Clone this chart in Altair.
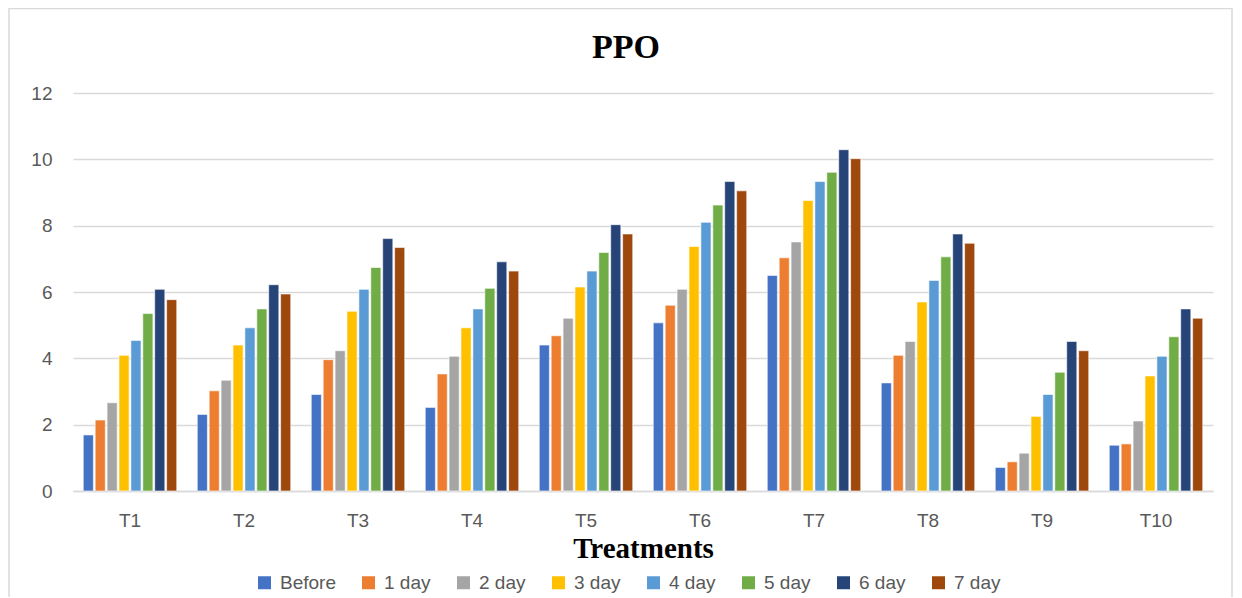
import altair as alt
import pandas as pd

treatments = ["T1", "T2", "T3", "T4", "T5", "T6", "T7", "T8", "T9", "T10"]
series = ["Before", "1 day", "2 day", "3 day", "4 day", "5 day", "6 day", "7 day"]
colors = ["#4472C4", "#ED7D31", "#A5A5A5", "#FFC000", "#5B9BD5", "#70AD47", "#264478", "#9E480E"]

before = [1.69, 2.31, 2.91, 2.52, 4.40, 5.07, 6.50, 3.26, 0.71, 1.38]
day1 = [2.14, 3.02, 3.96, 3.53, 4.68, 5.60, 7.03, 4.09, 0.88, 1.42]
day2 = [2.66, 3.34, 4.23, 4.06, 5.21, 6.08, 7.51, 4.51, 1.14, 2.11]
day3 = [4.09, 4.40, 5.42, 4.92, 6.15, 7.37, 8.76, 5.70, 2.25, 3.47]
day4 = [4.54, 4.92, 6.08, 5.49, 6.63, 8.10, 9.33, 6.35, 2.91, 4.06]
day5 = [5.35, 5.49, 6.74, 6.11, 7.19, 8.62, 9.61, 7.06, 3.58, 4.65]
day6 = [6.08, 6.22, 7.61, 6.91, 8.03, 9.33, 10.29, 7.75, 4.51, 5.49]
day7 = [5.77, 5.94, 7.34, 6.63, 7.75, 9.05, 10.02, 7.47, 4.23, 5.21]

all_vals = [before, day1, day2, day3, day4, day5, day6, day7]
rows = []
for s, vals in zip(series, all_vals):
    for t, v in zip(treatments, vals):
        rows.append({"Treatment": t, "Series": s, "Value": v})
df = pd.DataFrame(rows)

bars = alt.Chart(df).mark_bar(stroke="white", strokeWidth=0.6).encode(
    x=alt.X("Treatment:N", sort=treatments,
            scale=alt.Scale(paddingInner=0.18, paddingOuter=0.09),
            axis=alt.Axis(title="Treatments", labelAngle=0, labelFontSize=19,
                          labelColor="#595959", labelFont="Liberation Sans",
                          labelPadding=20, ticks=False, domainColor="#d9d9d9",
                          domainWidth=1.5, titleFont="Liberation Serif",
                          titleFontSize=29, titleFontWeight="bold",
                          titleColor="black", titlePadding=4)),
    xOffset=alt.XOffset("Series:N", sort=series,
                        scale=alt.Scale(paddingInner=0.15)),
    y=alt.Y("Value:Q", scale=alt.Scale(domain=[0, 12]),
            axis=alt.Axis(title=None, values=[0, 2, 4, 6, 8, 10, 12],
                          domain=False, ticks=False, gridColor="#d9d9d9",
                          gridWidth=1.5, labelFontSize=19, labelColor="#595959",
                          labelFont="Liberation Sans", labelPadding=21)),
    color=alt.Color("Series:N", sort=series,
                    scale=alt.Scale(domain=series, range=colors),
                    legend=alt.Legend(title=None, orient="none", legendX=182,
                                      legendY=480, direction="horizontal",
                                      columns=8, symbolType="square",
                                      symbolSize=169, symbolStrokeWidth=0,
                                      labelFontSize=19, labelColor="#595959",
                                      labelFont="Liberation Sans",
                                      columnPadding=23, labelOffset=6)),
)

border = alt.Chart(pd.DataFrame({"a": [0]})).mark_rect(
    fillOpacity=0, stroke="#d9d9d9", strokeWidth=1.5
).encode(x=alt.value(-64), x2=alt.value(1159), y=alt.value(-84.5), y2=alt.value(520))

chart = alt.layer(bars, border).properties(
    width=1140, height=398,
    title=alt.TitleParams(text="PPO", font="Liberation Serif", fontSize=34,
                          fontWeight="bold", color="black", anchor="middle",
                          dx=-17, offset=-57),
    autosize=alt.AutoSizeParams(type="none"),
    padding={"left": 65, "top": 85, "right": 21, "bottom": 106},
).configure_view(stroke=None)

chart.save("out.html", embed_options={"renderer": "svg", "actions": False})
